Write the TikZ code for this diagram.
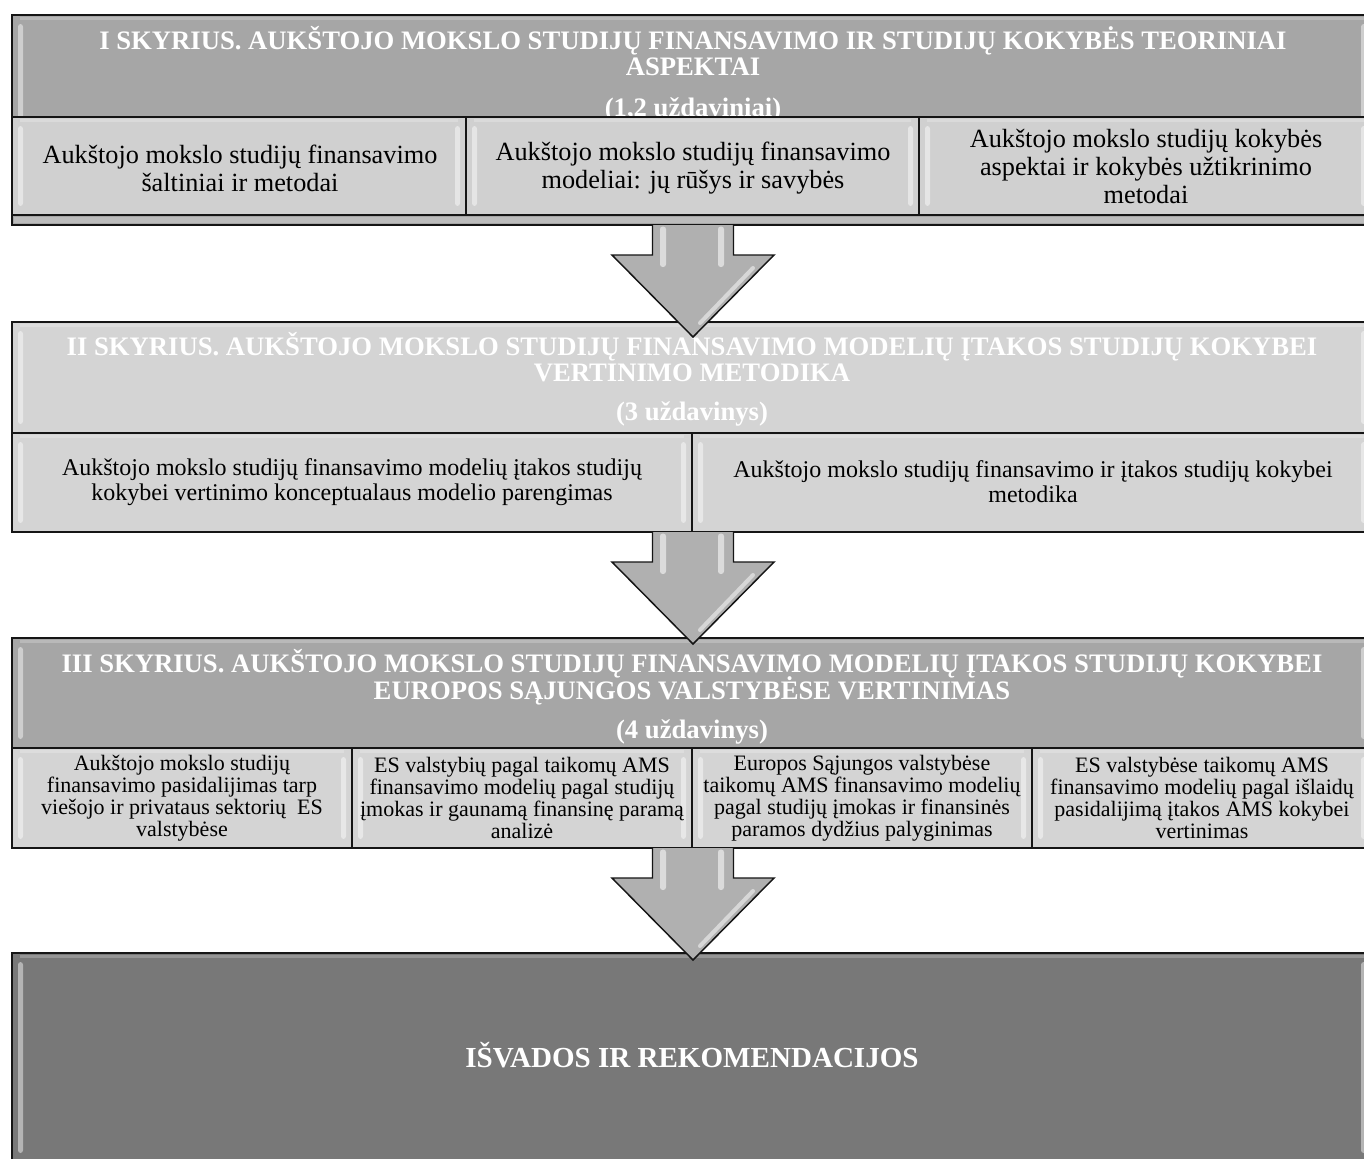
\documentclass[tikz,border=0pt]{standalone}
\usepackage{fontspec}
\setmainfont{Liberation Serif}
\usetikzlibrary{calc}
\definecolor{hdrdark}{HTML}{A6A6A6}
\definecolor{hdrlight}{HTML}{D4D4D4}
\definecolor{subfill}{HTML}{D0D0D0}
\definecolor{finfill}{HTML}{787878}
\definecolor{arrowfill}{HTML}{B0B0B0}
\definecolor{edgecol}{HTML}{151515}

% bevelled box: fill colour, x1, y1, x2, y2 (pixels, y downwards)
\newcommand\bevelbox[5]{%
  \filldraw[fill=#1, draw=edgecol, line width=1.1pt] (#2,#3) rectangle (#4,#5);
  \fill[white, opacity=.45, rounded corners=2pt] ({#2+6},{#3+9}) rectangle ({#2+11},{#5-9});
  \fill[white, opacity=.45, rounded corners=2pt] ({#4-11},{#3+9}) rectangle ({#4-6},{#5-9});
  \fill[white, opacity=.22] ({#2+8},{#3+1.5}) rectangle ({#4-8},{#3+5});
}
% block arrow from named start coordinate to named tip coordinate
\newcommand\blockarrowdown[2]{%
  \filldraw[fill=arrowfill, draw=edgecol, line width=1.1pt, line join=miter]
    ($(#1)+(-40.5,0)$) -- ($(#1)+(-40.5,30)$) -- ($(#1)+(-81,30)$) -- (#2)
    -- ($(#1)+(81,30)$) -- ($(#1)+(40.5,30)$) -- ($(#1)+(40.5,0)$);
  \fill[white, opacity=.55, rounded corners=2pt] ($(#1)+(-33,1.5)$) rectangle ($(#1)+(-27,42)$);
  \fill[white, opacity=.55, rounded corners=2pt] ($(#1)+(25,1.5)$) rectangle ($(#1)+(31,42)$);
  \draw[white, opacity=.5, line width=3pt, line cap=round] ($(#1)+(60,43)$) -- ($(#1)+(7,98)$);
}

\begin{document}
\begin{tikzpicture}[x=0.75pt, y=-0.75pt,
  hdrtext/.style={anchor=base, inner sep=0pt, text=white,
    font=\fontsize{20pt}{20pt}\selectfont\bfseries},
  subA/.style={align=center, inner sep=0pt, text=black,
    font=\fontsize{19.7pt}{21pt}\selectfont},
  subB/.style={align=center, inner sep=0pt, text=black,
    font=\fontsize{18pt}{18.75pt}\selectfont},
  subC/.style={align=center, inner sep=0pt, text=black,
    font=\fontsize{16.5pt}{16.6pt}\selectfont},
  fintext/.style={anchor=base, inner sep=0pt, text=white,
    font=\fontsize{21.8pt}{22pt}\selectfont\bfseries}]
\useasboundingbox (0,0) rectangle (1364,1158);
\fill[white] (0,0) rectangle (1364,1158);
\clip (0,0) rectangle (1364,1158);

% ---------- Section I ----------
\bevelbox{hdrdark}{12}{15}{1372}{225}
\fill[white, opacity=.25] (14,217) rectangle (1370,223);
\node[hdrtext] (h1a) at (693,49) {I SKYRIUS. AUKŠTOJO MOKSLO STUDIJŲ FINANSAVIMO IR STUDIJŲ KOKYBĖS TEORINIAI};
\node[hdrtext] (h1b) at (693,75) {ASPEKTAI};
\node[hdrtext] (h1c) at (693,116) {(1,2 uždaviniai)};
\bevelbox{subfill}{12}{117}{466}{215}
\bevelbox{subfill}{466}{117}{919}{215}
\bevelbox{subfill}{919}{117}{1372}{215}
\node[subA] (s1a) at (240,168) {Aukštojo mokslo studijų finansavimo\\šaltiniai ir metodai};
\node[subA] (s1b) at (693,168) {Aukštojo mokslo studijų finansavimo\\modeliai: jų rūšys ir savybės};
\node[subA] (s1c) at (1146,166) {Aukštojo mokslo studijų kokybės\\aspektai ir kokybės užtikrinimo\\metodai};
\coordinate (secIbot) at (693,225);

% ---------- Section II ----------
\bevelbox{hdrlight}{12}{322}{1372}{433}
\node[hdrtext] (h2a) at (692,355) {II SKYRIUS. AUKŠTOJO MOKSLO STUDIJŲ FINANSAVIMO MODELIŲ ĮTAKOS STUDIJŲ KOKYBEI};
\node[hdrtext] (h2b) at (692,381) {VERTINIMO METODIKA};
\node[hdrtext] (h2c) at (692,420) {(3 uždavinys)};
\bevelbox{hdrlight}{12}{433}{692}{532}
\bevelbox{hdrlight}{692}{433}{1372}{532}
\node[subB] (s2a) at (352,482) {Aukštojo mokslo studijų finansavimo modelių įtakos studijų\\kokybei vertinimo konceptualaus modelio parengimas};
\node[subB] (s2b) at (1033,482) {Aukštojo mokslo studijų finansavimo ir įtakos studijų kokybei\\metodika};
\coordinate (secIItip) at (693,337);
\coordinate (secIIbot) at (693,532);

% ---------- Section III ----------
\bevelbox{hdrdark}{12}{638}{1372}{748}
\node[hdrtext] (h3a) at (692,672) {III SKYRIUS. AUKŠTOJO MOKSLO STUDIJŲ FINANSAVIMO MODELIŲ ĮTAKOS STUDIJŲ KOKYBEI};
\node[hdrtext] (h3b) at (692,699) {EUROPOS SĄJUNGOS VALSTYBĖSE VERTINIMAS};
\node[hdrtext] (h3c) at (692,738) {(4 uždavinys)};
\bevelbox{hdrlight}{12}{748}{352}{848}
\bevelbox{hdrlight}{352}{748}{692}{848}
\bevelbox{hdrlight}{692}{748}{1032}{848}
\bevelbox{hdrlight}{1032}{748}{1372}{848}
\node[subC] (s3a) at (182,798) {Aukštojo mokslo studijų\\finansavimo pasidalijimas tarp\\viešojo ir privataus sektorių \ ES\\valstybėse};
\node[subC] (s3b) at (522,798) {ES valstybių pagal taikomų AMS\\finansavimo modelių pagal studijų\\įmokas ir gaunamą finansinę paramą\\analizė};
\node[subC] (s3c) at (862,798) {Europos Sąjungos valstybėse\\taikomų AMS finansavimo modelių\\pagal studijų įmokas ir finansinės\\paramos dydžius palyginimas};
\node[subC] (s3d) at (1202,798) {ES valstybėse taikomų AMS\\finansavimo modelių pagal išlaidų\\pasidalijimą įtakos AMS kokybei\\vertinimas};
\coordinate (secIIItip) at (693,644);
\coordinate (secIIIbot) at (693,848);

% ---------- Conclusions ----------
\bevelbox{finfill}{12}{953}{1372}{1162}
\node[fintext] (fin) at (692,1067) {IŠVADOS IR REKOMENDACIJOS};
\coordinate (fintip) at (693,960);

% ---------- Arrows ----------
\blockarrowdown{secIbot}{secIItip}
\blockarrowdown{secIIbot}{secIIItip}
\blockarrowdown{secIIIbot}{fintip}
\end{tikzpicture}
\end{document}
